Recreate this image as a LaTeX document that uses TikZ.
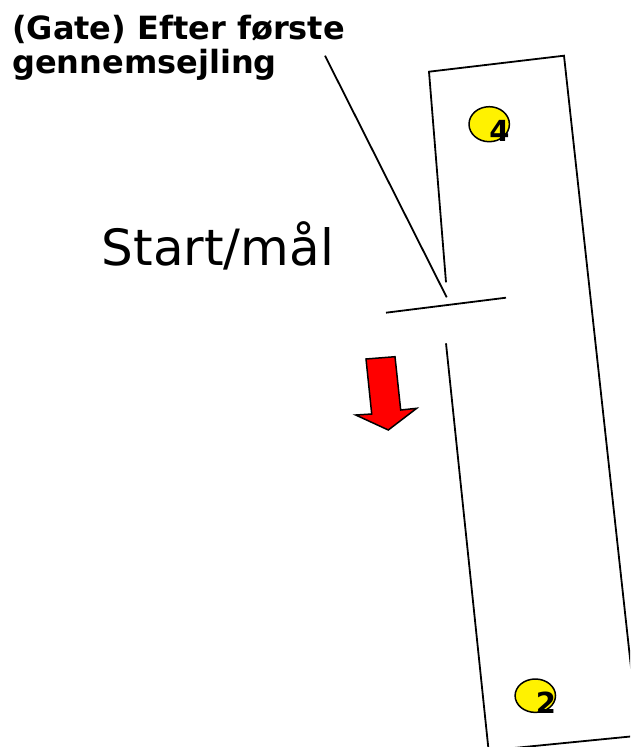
\documentclass[tikz,border=0pt]{standalone}
\usepackage{fontspec}
\setmainfont{DejaVu Sans}
\usetikzlibrary{shapes.geometric}
\tikzset{
  edge/.style={draw=black, line width=1.8pt, line join=miter},
  buoy/.style={ellipse, draw=black, line width=1.5pt, fill=yellow, inner sep=0pt, minimum width=40.4pt, minimum height=35pt},
  numlbl/.style={inner sep=0pt, anchor=base, font=\fontsize{29}{30}\selectfont\bfseries},
  titlelbl/.style={inner sep=0pt, anchor=base west, font=\fontsize{32}{33.5}\selectfont\bfseries},
  biglbl/.style={inner sep=0pt, anchor=base west, font=\fontsize{50}{55}\selectfont},
  redarrow/.style={draw=black, line width=1.5pt, fill=red, line join=miter}
}
\begin{document}
\begin{tikzpicture}[x=1pt, y=-1pt]
\useasboundingbox (0,0) rectangle (630,747);
\fill[white] (0,0) rectangle (630,747);
\begin{scope}
\clip (0,0) rectangle (630,747);
% course rectangle with the gate opening on the left side
\draw[edge] (446,282.3) -- (429,71.7) -- (564,55.7) -- (638.5,735.7) -- (488.6,750.5) -- (446,343.3);
\end{scope}
% gate line
\coordinate (gateL) at (386,312.7);
\coordinate (gateR) at (506,297.7);
\draw[edge] (gateL) -- (gateR);
% title and leader
\node[titlelbl] (title1) at (12,39.5) {(Gate) Efter første};
\node[titlelbl] (title2) at (12,73) {gennemsejling};
\coordinate (leadA) at (325,55.7);
\coordinate (leadB) at (446.7,297.3);
\draw[edge] (leadA) -- (leadB);
% start / finish label
\node[biglbl] (start) at (101.5,265) {Start/mål};
% red arrow
\draw[redarrow] (366,359) -- (395,356.7) -- (400.7,410) -- (416.7,408.3) -- (388.3,430) -- (355.7,415) -- (371.7,414) -- cycle;
% buoys
\node[buoy] (c4) at (489.2,124.2) {};
\node[numlbl] (n4) at (499.5,141) {4};
\node[buoy, minimum height=33.4pt] (c2) at (535.3,695.7) {};
\node[numlbl] (n2) at (546,713) {2};
\end{tikzpicture}
\end{document}
